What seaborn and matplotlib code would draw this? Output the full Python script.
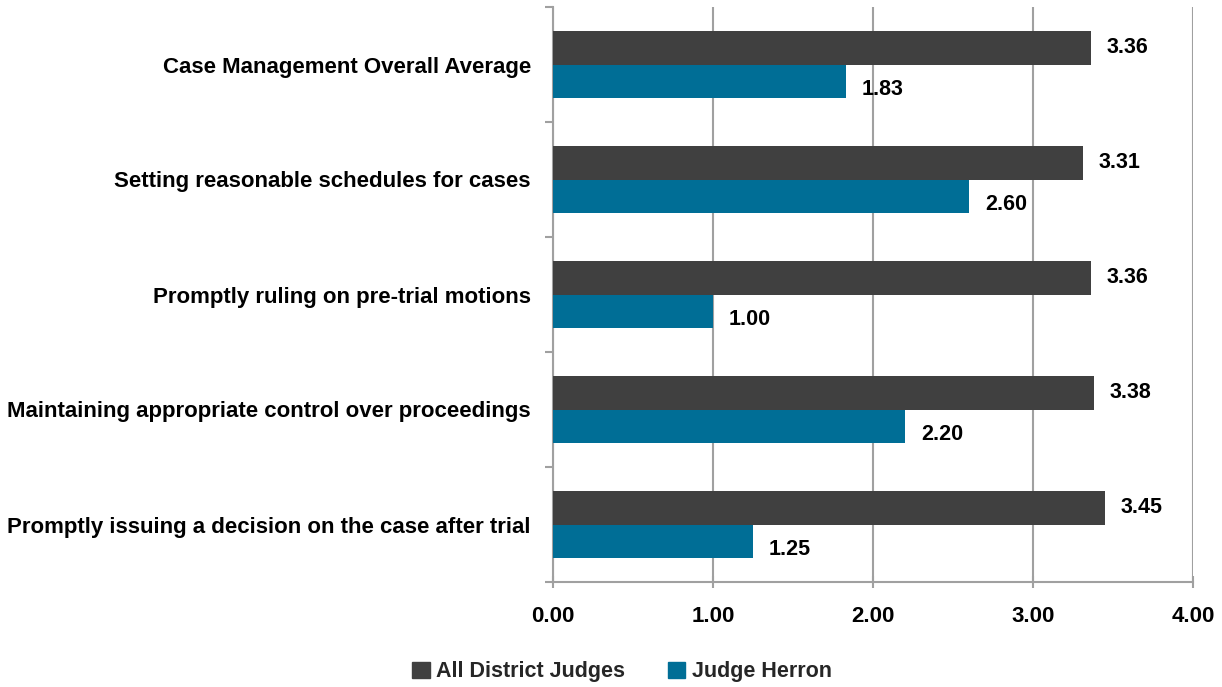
import matplotlib
matplotlib.use("Agg")
import matplotlib.pyplot as plt
import seaborn as sns
import pandas as pd
import numpy as np

categories = [
    "Case Management Overall Average",
    "Setting reasonable schedules for cases",
    "Promptly ruling on pre-trial motions",
    "Maintaining appropriate control over proceedings",
    "Promptly issuing a decision on the case after trial",
]
series_names = ["All District Judges", "Judge Herron"]
all_judges = [3.36, 3.31, 3.36, 3.38, 3.45]
herron = [1.83, 2.60, 1.00, 2.20, 1.25]
x_ticks = [0, 1, 2, 3, 4]
colors = ["#404040", "#006E96"]

df = pd.DataFrame({
    "category": categories * 2,
    "series": [series_names[0]] * len(categories) + [series_names[1]] * len(categories),
    "value": all_judges + herron,
})

sns.set_theme(style="white")
plt.rcParams['font.family'] = ['Liberation Sans Narrow', 'Liberation Sans', 'DejaVu Sans']
plt.rcParams['font.weight'] = 'bold'

fig = plt.figure(figsize=(12.22, 6.87), dpi=100)
ax = fig.add_axes([553/1222, 1 - 582/687, 640/1222, 575/687])

sns.barplot(data=df, y="category", x="value", hue="series", orient="h",
            palette=colors, width=0.574, gap=0, ax=ax, saturation=1,
            edgecolor="none", linewidth=0, zorder=3)

ax.set_xlim(0, 4)
ax.set_ylim(len(categories) - 0.5, -0.5)
ax.set_xticks(x_ticks)
ax.set_xticklabels([f"{t:.2f}" for t in x_ticks], fontsize=16, fontweight="bold")
ax.set_xlabel("")
ax.set_ylabel("")
ax.grid(axis="x", color="#A0A0A0", linewidth=1.5, zorder=0)
ax.grid(axis="y", visible=False)

for s in ["top", "right"]:
    ax.spines[s].set_visible(False)
for s in ["left", "bottom"]:
    ax.spines[s].set_color("#A0A0A0")
    ax.spines[s].set_linewidth(1.5)

ax.set_yticks(range(len(categories)))
ax.set_yticklabels(categories, fontsize=16, fontweight="bold")
ax.tick_params(axis="y", which="major", length=0, pad=16)
ax.set_yticks(np.arange(-0.5, len(categories), 1), minor=True)
ax.tick_params(axis="y", which="minor", length=6, width=1.5, color="#A0A0A0", direction="out", left=True)
ax.tick_params(axis="x", which="major", length=8, width=1.5, color="#A0A0A0", direction="inout", bottom=True, pad=13)
for lbl in ax.get_yticklabels() + ax.get_xticklabels():
    lbl.set_color("black")

# value labels
for ci, cont in enumerate(ax.containers):
    vals = all_judges if ci == 0 else herron
    for bar, v in zip(cont, vals):
        yc = bar.get_y() + bar.get_height() / 2 + (0.07 if ci == 1 else 0)
        ax.text(v + 0.1, yc, f"{v:.2f}", va="center", ha="left",
                fontsize=15.5, fontweight="bold", color="black", zorder=4)

ax.legend_.remove()
handles = [plt.Rectangle((0, 0), 1, 1, color=c) for c in colors]
fig.legend(handles, series_names, loc="center", bbox_to_anchor=(622/1222, 1 - 672/687),
           ncol=2, frameon=False, handlelength=0.8, handleheight=0.8,
           handletextpad=0.3, columnspacing=2.0, prop={"weight": "bold", "size": 15.5})

fig.savefig("out.png", dpi=100)
